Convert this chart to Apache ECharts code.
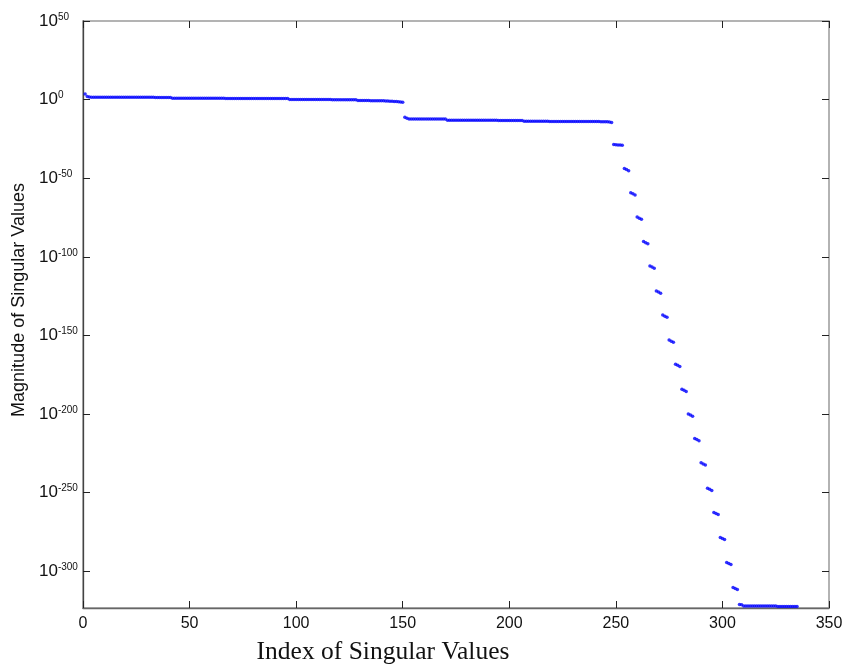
<!DOCTYPE html>
<html>
<head>
<meta charset="utf-8">
<title>Singular values</title>
<script src="https://cdn.jsdelivr.net/npm/echarts@6/dist/echarts.min.js"></script>
<style>
  html, body { margin: 0; padding: 0; background: #fff; }
  #chart { width: 845px; height: 668px; }
</style>
</head>
<body>
<div id="chart"></div>
<script>
// magnitudes are kept as log10 exponents (values go down to denormals ~1e-322)
// first plateau, index 1..150
const plateauHigh = [
    3.6, 2.0, 1.7,
    1.55, 1.55, 1.54, 1.54, 1.53, 1.53, 1.52, 1.52, 1.51, 1.51,
    1.50, 1.50, 1.50, 1.49, 1.49, 1.48, 1.48, 1.47, 1.47, 1.47,
    1.46, 1.46, 1.45, 1.45, 1.45, 1.44, 1.44, 1.43, 1.43, 1.43,
    1.42, 1.42, 1.42, 1.41, 1.41, 1.41, 1.40, 1.40,
    0.86, 0.86, 0.85, 0.85, 0.85, 0.84, 0.84, 0.84, 0.83, 0.83,
    0.83, 0.83, 0.82, 0.82, 0.82, 0.82, 0.81, 0.81, 0.81, 0.81,
    0.80, 0.80, 0.80, 0.80, 0.80, 0.79, 0.79, 0.79, 0.79, 0.79,
    0.78, 0.78, 0.78, 0.78, 0.78, 0.77, 0.77, 0.77, 0.77, 0.77,
    0.76, 0.76, 0.76, 0.76, 0.76, 0.75, 0.75, 0.75, 0.75, 0.75,
    0.74, 0.74, 0.74, 0.73, 0.73,
    0.06, 0.06, 0.05, 0.05, 0.05, 0.04, 0.04, 0.04, 0.03, 0.03,
    0.03, 0.02, 0.02, 0.02, 0.01, 0.01, 0.01, 0.00, 0.00, 0.00,
    -0.01, -0.01, -0.01, -0.02, -0.02, -0.02, -0.03, -0.03, -0.04, -0.04,
    -0.05, -0.05,
    -0.58, -0.59, -0.60, -0.61, -0.62, -0.63, -0.64, -0.65, -0.66, -0.67, -0.68, -0.70, -0.72,
    -0.80, -0.88, -0.96, -1.05, -1.15, -1.26, -1.38, -1.55, -1.75
];

// second plateau, index 151..248
const plateauLow = [
    -11.2, -11.9,
    -12.28, -12.29, -12.30, -12.30, -12.31, -12.32, -12.32, -12.33, -12.34,
    -12.34, -12.35, -12.36, -12.36, -12.37, -12.38, -12.38, -12.39, -12.40,
    -13.08, -13.08, -13.09, -13.09, -13.10, -13.10, -13.11, -13.11, -13.12, -13.12,
    -13.13, -13.13, -13.14, -13.14, -13.15, -13.15, -13.16, -13.16, -13.17, -13.17,
    -13.18, -13.18, -13.19, -13.19, -13.20, -13.20, -13.21, -13.21, -13.22, -13.22,
    -13.23, -13.23, -13.24, -13.24, -13.25, -13.25,
    -13.78, -13.78, -13.79, -13.79, -13.80, -13.80, -13.81, -13.81, -13.82, -13.82,
    -13.83, -13.83, -13.84, -13.84, -13.85, -13.85, -13.86, -13.86, -13.87, -13.87,
    -13.88, -13.88, -13.89, -13.89, -13.90, -13.90, -13.91, -13.91, -13.92, -13.92,
    -13.93, -13.94, -13.95, -13.96, -13.97, -13.98, -14.00, -14.02, -14.05, -14.08,
    -14.2, -14.5
];

// the steep fall, index 249..307
const decayClusters = [
    -28.6, -28.7, -28.8, -28.9, -29.0,
    -43.8, -44.5, -45.2,
    -59.2, -59.9, -60.6,
    -74.7, -75.4, -76.1,
    -90.3, -91.0, -91.7,
    -105.8, -106.5, -107.2,
    -121.7, -122.4, -123.1,
    -137.0, -137.7, -138.4,
    -152.9, -153.6, -154.3,
    -168.3, -169.0, -169.7,
    -184.2, -184.9, -185.6,
    -199.9, -200.6, -201.3,
    -215.5, -216.2, -216.9,
    -231.0, -231.7, -232.4,
    -247.1, -247.8, -248.5,
    -262.5, -263.2, -263.9,
    -278.4, -279.1, -279.8,
    -294.3, -295.0, -295.7,
    -310.2, -310.9, -311.6
];

// denormal floor, index 308..335
const floorValues = [
    -321.0, -321.2,
    -322.0, -322.0, -322.0, -322.0, -322.0, -322.0, -322.0, -322.0,
    -322.0, -322.0, -322.0, -322.0, -322.0, -322.0, -322.0, -322.0,
    -322.4, -322.4, -322.4, -322.4, -322.4, -322.4, -322.4, -322.4, -322.4, -322.4
];

const xTicks = [0, 50, 100, 150, 200, 250, 300, 350];
const yTickExponents = [-300, -250, -200, -150, -100, -50, 0, 50];

const exponents = plateauHigh.concat(plateauLow, decayClusters, floorValues);
const points = exponents.map((e, i) => [i + 1, e]);

const chart = echarts.init(document.getElementById('chart'), null, { renderer: 'canvas' });

const sansFont = '"Liberation Sans", Arial, sans-serif';
const tickStyle = { show: true, inside: true, length: 7, lineStyle: { color: '#222', width: 1 } };

const option = {
    backgroundColor: '#fff',
    animation: false,
    grid: {
        left: 83, right: 16, top: 21, bottom: 60,
        outerBoundsMode: 'none',
        containLabel: false,
        show: true,
        borderColor: '#9a9a9a',
        borderWidth: 1.5
    },
    xAxis: [{
        type: 'value',
        min: 0,
        max: 350,
        interval: 50,
        position: 'bottom',
        splitLine: { show: false },
        axisLine: { show: true, onZero: false, lineStyle: { color: '#666', width: 1.3 } },
        axisTick: tickStyle,
        axisLabel: {
            margin: 8,
            color: '#111',
            fontFamily: sansFont,
            fontSize: 16,
            customValues: xTicks
        },
        name: 'Index of Singular Values',
        nameLocation: 'middle',
        nameGap: 31,
        nameTextStyle: {
            fontFamily: '"Liberation Serif", "Times New Roman", serif',
            fontSize: 25.5,
            color: '#111',
            padding: [0, 146, 0, 0]
        }
    }, {
        type: 'value',
        min: 0,
        max: 350,
        interval: 50,
        position: 'top',
        splitLine: { show: false },
        axisLine: { show: false, onZero: false },
        axisTick: tickStyle,
        axisLabel: { show: false }
    }],
    yAxis: [{
        type: 'value',
        min: -323.3,
        max: 50,
        position: 'left',
        splitLine: { show: false },
        axisLine: { show: true, onZero: false, lineStyle: { color: '#444', width: 1.3 } },
        axisTick: Object.assign({}, tickStyle, { customValues: yTickExponents }),
        axisLabel: {
            customValues: yTickExponents,
            align: 'left',
            margin: 44,
            formatter: (v) => '{b|10}{e|' + v + '}',
            rich: {
                b: { fontFamily: sansFont, fontSize: 17, color: '#111', lineHeight: 18 },
                e: { fontFamily: sansFont, fontSize: 10, color: '#111', lineHeight: 18, verticalAlign: 'top' }
            }
        },
        name: 'Magnitude of Singular Values',
        nameLocation: 'middle',
        nameGap: 51,
        nameTextStyle: {
            fontFamily: sansFont,
            fontSize: 18,
            color: '#111',
            padding: [0, 0, 0, 29]
        }
    }, {
        type: 'value',
        min: -323.3,
        max: 50,
        position: 'right',
        splitLine: { show: false },
        axisLine: { show: false, onZero: false },
        axisTick: Object.assign({}, tickStyle, { customValues: yTickExponents }),
        axisLabel: { show: false, customValues: yTickExponents }
    }],
    series: [{
        name: 'Singular values',
        type: 'scatter',
        xAxisIndex: 0,
        yAxisIndex: 0,
        data: points,
        symbol: 'circle',
        symbolSize: 3.5,
        itemStyle: { color: '#0000ff' },
        silent: true
    }]
};

chart.setOption(option);
</script>
</body>
</html>
